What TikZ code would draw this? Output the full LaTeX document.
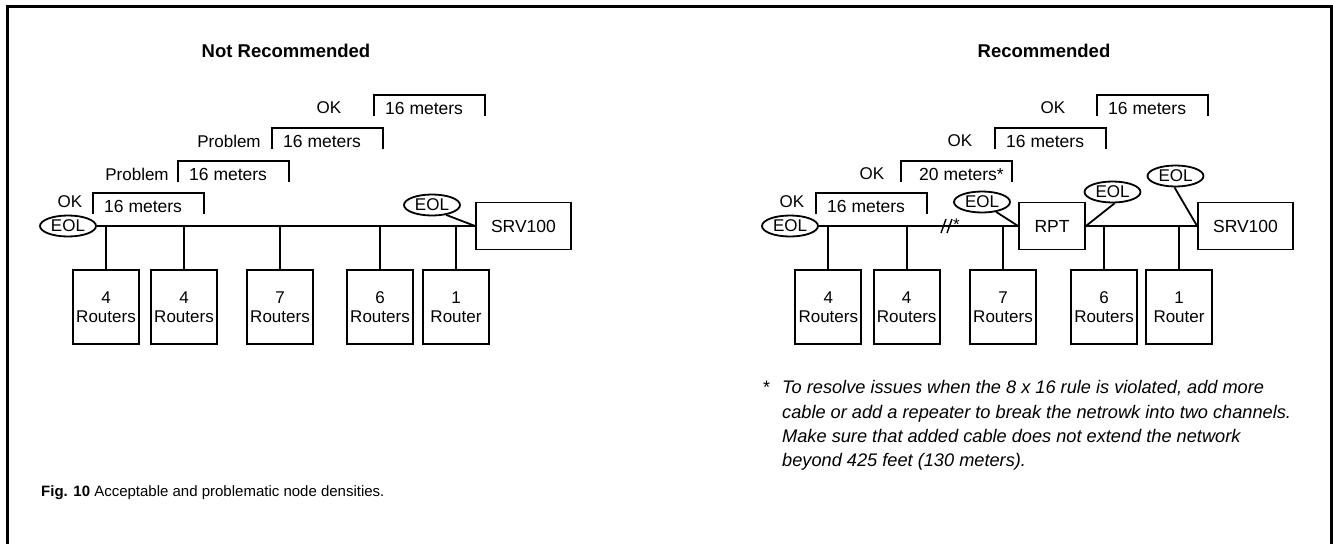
\documentclass[tikz,border=0pt]{standalone}
\usepackage{fontspec}
\setmainfont{Liberation Sans}
\usetikzlibrary{shapes.geometric}
\begin{document}
\begin{tikzpicture}[x=1pt,y=-1pt,
  wire/.style={line width=1.8pt},
  span/.style={line width=1.6pt},
  unitbox/.style={draw,line width=1.8pt,minimum width=66pt,minimum height=74pt,inner sep=0pt,align=center,font=\fontsize{17}{19}\selectfont},
  devbox/.style={draw,line width=1.8pt,minimum height=47pt,inner sep=0pt,font=\fontsize{17.5}{17.5}\selectfont},
  eol/.style={draw,ellipse,line width=1.8pt,minimum width=56pt,minimum height=21pt,inner sep=0pt,font=\fontsize{17}{17}\selectfont},
  lbl/.style={inner sep=0pt,font=\fontsize{17}{17}\selectfont},
  mtr/.style={inner sep=0pt,anchor=west,font=\fontsize{17.5}{17.5}\selectfont},
  ttl/.style={inner sep=0pt,font=\bfseries\fontsize{18.5}{18.5}\selectfont},
  note/.style={inner sep=0pt,anchor=base west,font=\itshape\fontsize{18.2}{18.2}\selectfont}
]
\useasboundingbox (0,0) rectangle (1333,544);
% frame
\draw[line width=3pt] (7.5,544) -- (7.5,6.5) -- (1331.5,6.5) -- (1331.5,544);

% ---------------- left: not recommended ----------------
\node[ttl] (t1) at (286,51) {Not Recommended};

% span brackets
\draw[span] (374,116) -- (374,95) -- (485,95) -- (485,116);
\draw[span] (272,149) -- (272,128) -- (383,128) -- (383,149);
\draw[span] (178,182) -- (178,161) -- (289,161) -- (289,182);
\draw[span] (93,214) -- (93,193) -- (204,193) -- (204,214);
\node[mtr] (a4) at (385,108) {16 meters};
\node[mtr] (a3) at (283,141) {16 meters};
\node[mtr] (a2) at (189,174) {16 meters};
\node[mtr] (a1) at (104,206) {16 meters};
\node[lbl] (s4) at (329,108) {OK};
\node[lbl] (s3) at (229,141) {Problem};
\node[lbl] (s2) at (137,174) {Problem};
\node[lbl] (s1) at (70,202) {OK};

% bus
\node[eol] (le1) at (68,226) {EOL};
\node[devbox,minimum width=95pt] (lsrv) at (523.5,226) {SRV100};
\node[eol] (le2) at (432,205) {EOL};
\draw[wire] (le1.east) -- (lsrv.west);
\draw[wire] (le2.-35) -- (lsrv.west);

\node[unitbox] (lr1) at (106,307) {4\\Routers};
\node[unitbox] (lr2) at (184,307) {4\\Routers};
\node[unitbox] (lr3) at (280,307) {7\\Routers};
\node[unitbox] (lr4) at (380,307) {6\\Routers};
\node[unitbox] (lr5) at (456,307) {1\\Router};
\foreach \r in {lr1,lr2,lr3,lr4,lr5}
  \draw[wire] (\r.north) -- (\r.north |- le1.east);

% ---------------- right: recommended ----------------
\node[ttl] (t2) at (1044,51) {Recommended};

\draw[span] (1097,116) -- (1097,95) -- (1208,95) -- (1208,116);
\draw[span] (995,149) -- (995,128) -- (1106,128) -- (1106,149);
\draw[span] (901,182) -- (901,161) -- (1012,161) -- (1012,182);
\draw[span] (816,214) -- (816,193) -- (927,193) -- (927,214);
\node[mtr] (b4) at (1108,108) {16 meters};
\node[mtr] (b3) at (1006,141) {16 meters};
\node[mtr] (b2) at (919,174) {20 meters*};
\node[mtr] (b1) at (827,206) {16 meters};
\node[lbl] (o4) at (1053,108) {OK};
\node[lbl] (o3) at (960,141) {OK};
\node[lbl] (o2) at (872,174) {OK};
\node[lbl] (o1) at (792,202) {OK};

\node[eol] (re1) at (790,226) {EOL};
\node[devbox,minimum width=66pt] (rpt) at (1052,226) {RPT};
\node[devbox,minimum width=95pt] (rsrv) at (1245.5,226) {SRV100};
\node[eol] (re2) at (982,202) {EOL};
\node[eol] (re3) at (1112.5,192) {EOL};
\node[eol] (re4) at (1175.5,176) {EOL};
\draw[wire] (re1.east) -- (rpt.west);
\draw[wire] (rpt.east) -- (rsrv.west);
\draw[wire] (re2.-35) -- (rpt.west);
\draw[wire] (re3.-80) -- (rpt.east);
\draw[wire] (re4.-95) -- (rsrv.west);

% cable break mark
\draw[line width=1.4pt] (941,233) -- (946,219);
\draw[line width=1.4pt] (947,233) -- (952,219);
\node[lbl,anchor=base west] (brk) at (953,230) {*};

\node[unitbox] (rr1) at (828.3,307) {4\\Routers};
\node[unitbox] (rr2) at (906.7,307) {4\\Routers};
\node[unitbox] (rr3) at (1003,307) {7\\Routers};
\node[unitbox] (rr4) at (1104,307) {6\\Routers};
\node[unitbox] (rr5) at (1179,307) {1\\Router};
\foreach \r in {rr1,rr2,rr3,rr4,rr5}
  \draw[wire] (\r.north) -- (\r.north |- re1.east);

% footnote
\node[lbl,anchor=base west,font=\fontsize{18}{18}\selectfont] (fs) at (763,393) {*};
\node[note] (f1) at (782,393) {To resolve issues when the 8 x 16 rule is violated, add more};
\node[note] (f2) at (782,418) {cable or add a repeater to break the netrowk into two channels.};
\node[note] (f3) at (782,442) {Make sure that added cable does not extend the network};
\node[note] (f4) at (782,466) {beyond 425 feet (130 meters).};

% caption
\node[inner sep=0pt,anchor=base west,font=\fontsize{15}{15}\selectfont] (cap) at (41,496) {\textbf{Fig. 10} Acceptable and problematic node densities.};
\end{tikzpicture}
\end{document}
